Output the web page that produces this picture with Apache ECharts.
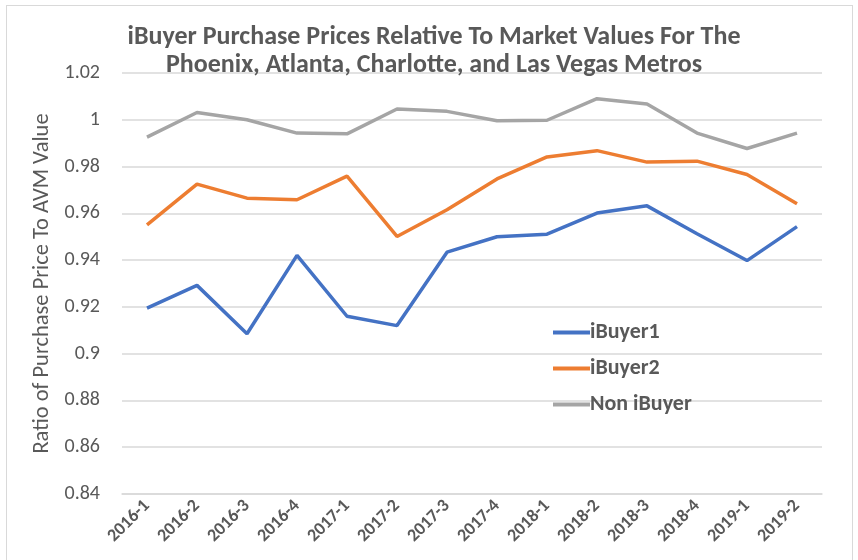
<!DOCTYPE html>
<html>
<head>
<meta charset="utf-8">
<script src="https://cdn.jsdelivr.net/npm/echarts@6/dist/echarts.min.js"></script>
<style>
  html, body { margin: 0; padding: 0; background: #fff; }
  #frame { position: absolute; left: 6px; top: 5px; width: 845px; height: 600px; border: 1px solid #d9d9d9; }
  #main { position: absolute; left: 0; top: 0; width: 858px; height: 560px; }
</style>
</head>
<body>
<div id="frame"></div>
<div id="main"></div>
<script>
const FONT = 'Carlito, "Liberation Sans Narrow", "Open Sans", sans-serif';
const TEXT = '#595959';

const quarters = ['2016-1', '2016-2', '2016-3', '2016-4', '2017-1', '2017-2', '2017-3',
  '2017-4', '2018-1', '2018-2', '2018-3', '2018-4', '2019-1', '2019-2'];
const ibuyer1 = [0.9195, 0.9292, 0.9085, 0.9420, 0.9160, 0.9120, 0.9434,
  0.9500, 0.9511, 0.9601, 0.9632, 0.9513, 0.9398, 0.9543];
const ibuyer2 = [0.9551, 0.9725, 0.9665, 0.9658, 0.9759, 0.9501, 0.9615,
  0.9747, 0.9841, 0.9868, 0.9819, 0.9823, 0.9766, 0.9641];
const nonIbuyer = [0.9926, 1.0031, 1.0000, 0.9943, 0.9940, 1.0046, 1.0036,
  0.9996, 0.9998, 1.0090, 1.0067, 0.9943, 0.9877, 0.9943];
const yTicks = { min: 0.84, max: 1.02, step: 0.02 };

const chart = echarts.init(document.getElementById('main'));

function line(name, data, color) {
  return {
    name: name,
    type: 'line',
    data: data,
    symbol: 'none',
    lineStyle: { color: color, width: 3.5 },
    itemStyle: { color: color }
  };
}

const option = {
  animation: false,
  title: {
    text: 'iBuyer Purchase Prices Relative To Market Values For The\nPhoenix, Atlanta, Charlotte, and Las Vegas Metros',
    left: 429,
    top: 18,
    textAlign: 'center',
    textStyle: { fontFamily: FONT, fontSize: 26, fontWeight: 'bold', color: TEXT, lineHeight: 28 }
  },
  legend: {
    orient: 'vertical',
    left: 548,
    top: 316,
    itemWidth: 37,
    itemHeight: 4,
    itemGap: 13,
    icon: 'rect',
    textStyle: { fontFamily: FONT, fontSize: 22, fontWeight: 'bold', color: TEXT, padding: [0, 0, 0, -5], lineHeight: 23 },
    data: ['iBuyer1', 'iBuyer2', 'Non iBuyer']
  },
  grid: { left: 122, right: 36, top: 73, bottom: 66 },
  xAxis: {
    type: 'category',
    data: quarters,
    boundaryGap: true,
    axisLine: { lineStyle: { color: '#d9d9d9', width: 1.5 } },
    axisTick: { show: false },
    axisLabel: {
      rotate: 45,
      interval: 0,
      margin: 9,
      fontFamily: FONT,
      fontSize: 18,
      fontWeight: 'bold',
      color: TEXT
    }
  },
  yAxis: {
    type: 'value',
    min: yTicks.min,
    max: yTicks.max,
    interval: yTicks.step,
    name: 'Ratio of Purchase Price To AVM Value',
    nameLocation: 'middle',
    nameGap: 62,
    nameTextStyle: { fontFamily: FONT, fontSize: 22.5, color: TEXT },
    axisLine: { show: false },
    axisTick: { show: false },
    splitLine: { lineStyle: { color: '#d9d9d9', width: 1.5 } },
    axisLabel: {
      margin: 22,
      fontFamily: FONT,
      fontSize: 20,
      color: TEXT,
      formatter: v => String(parseFloat(v.toFixed(2)))
    }
  },
  series: [
    line('iBuyer1', ibuyer1, '#4472C4'),
    line('iBuyer2', ibuyer2, '#ED7D31'),
    line('Non iBuyer', nonIbuyer, '#A5A5A5')
  ]
};

chart.setOption(option);
</script>
</body>
</html>
